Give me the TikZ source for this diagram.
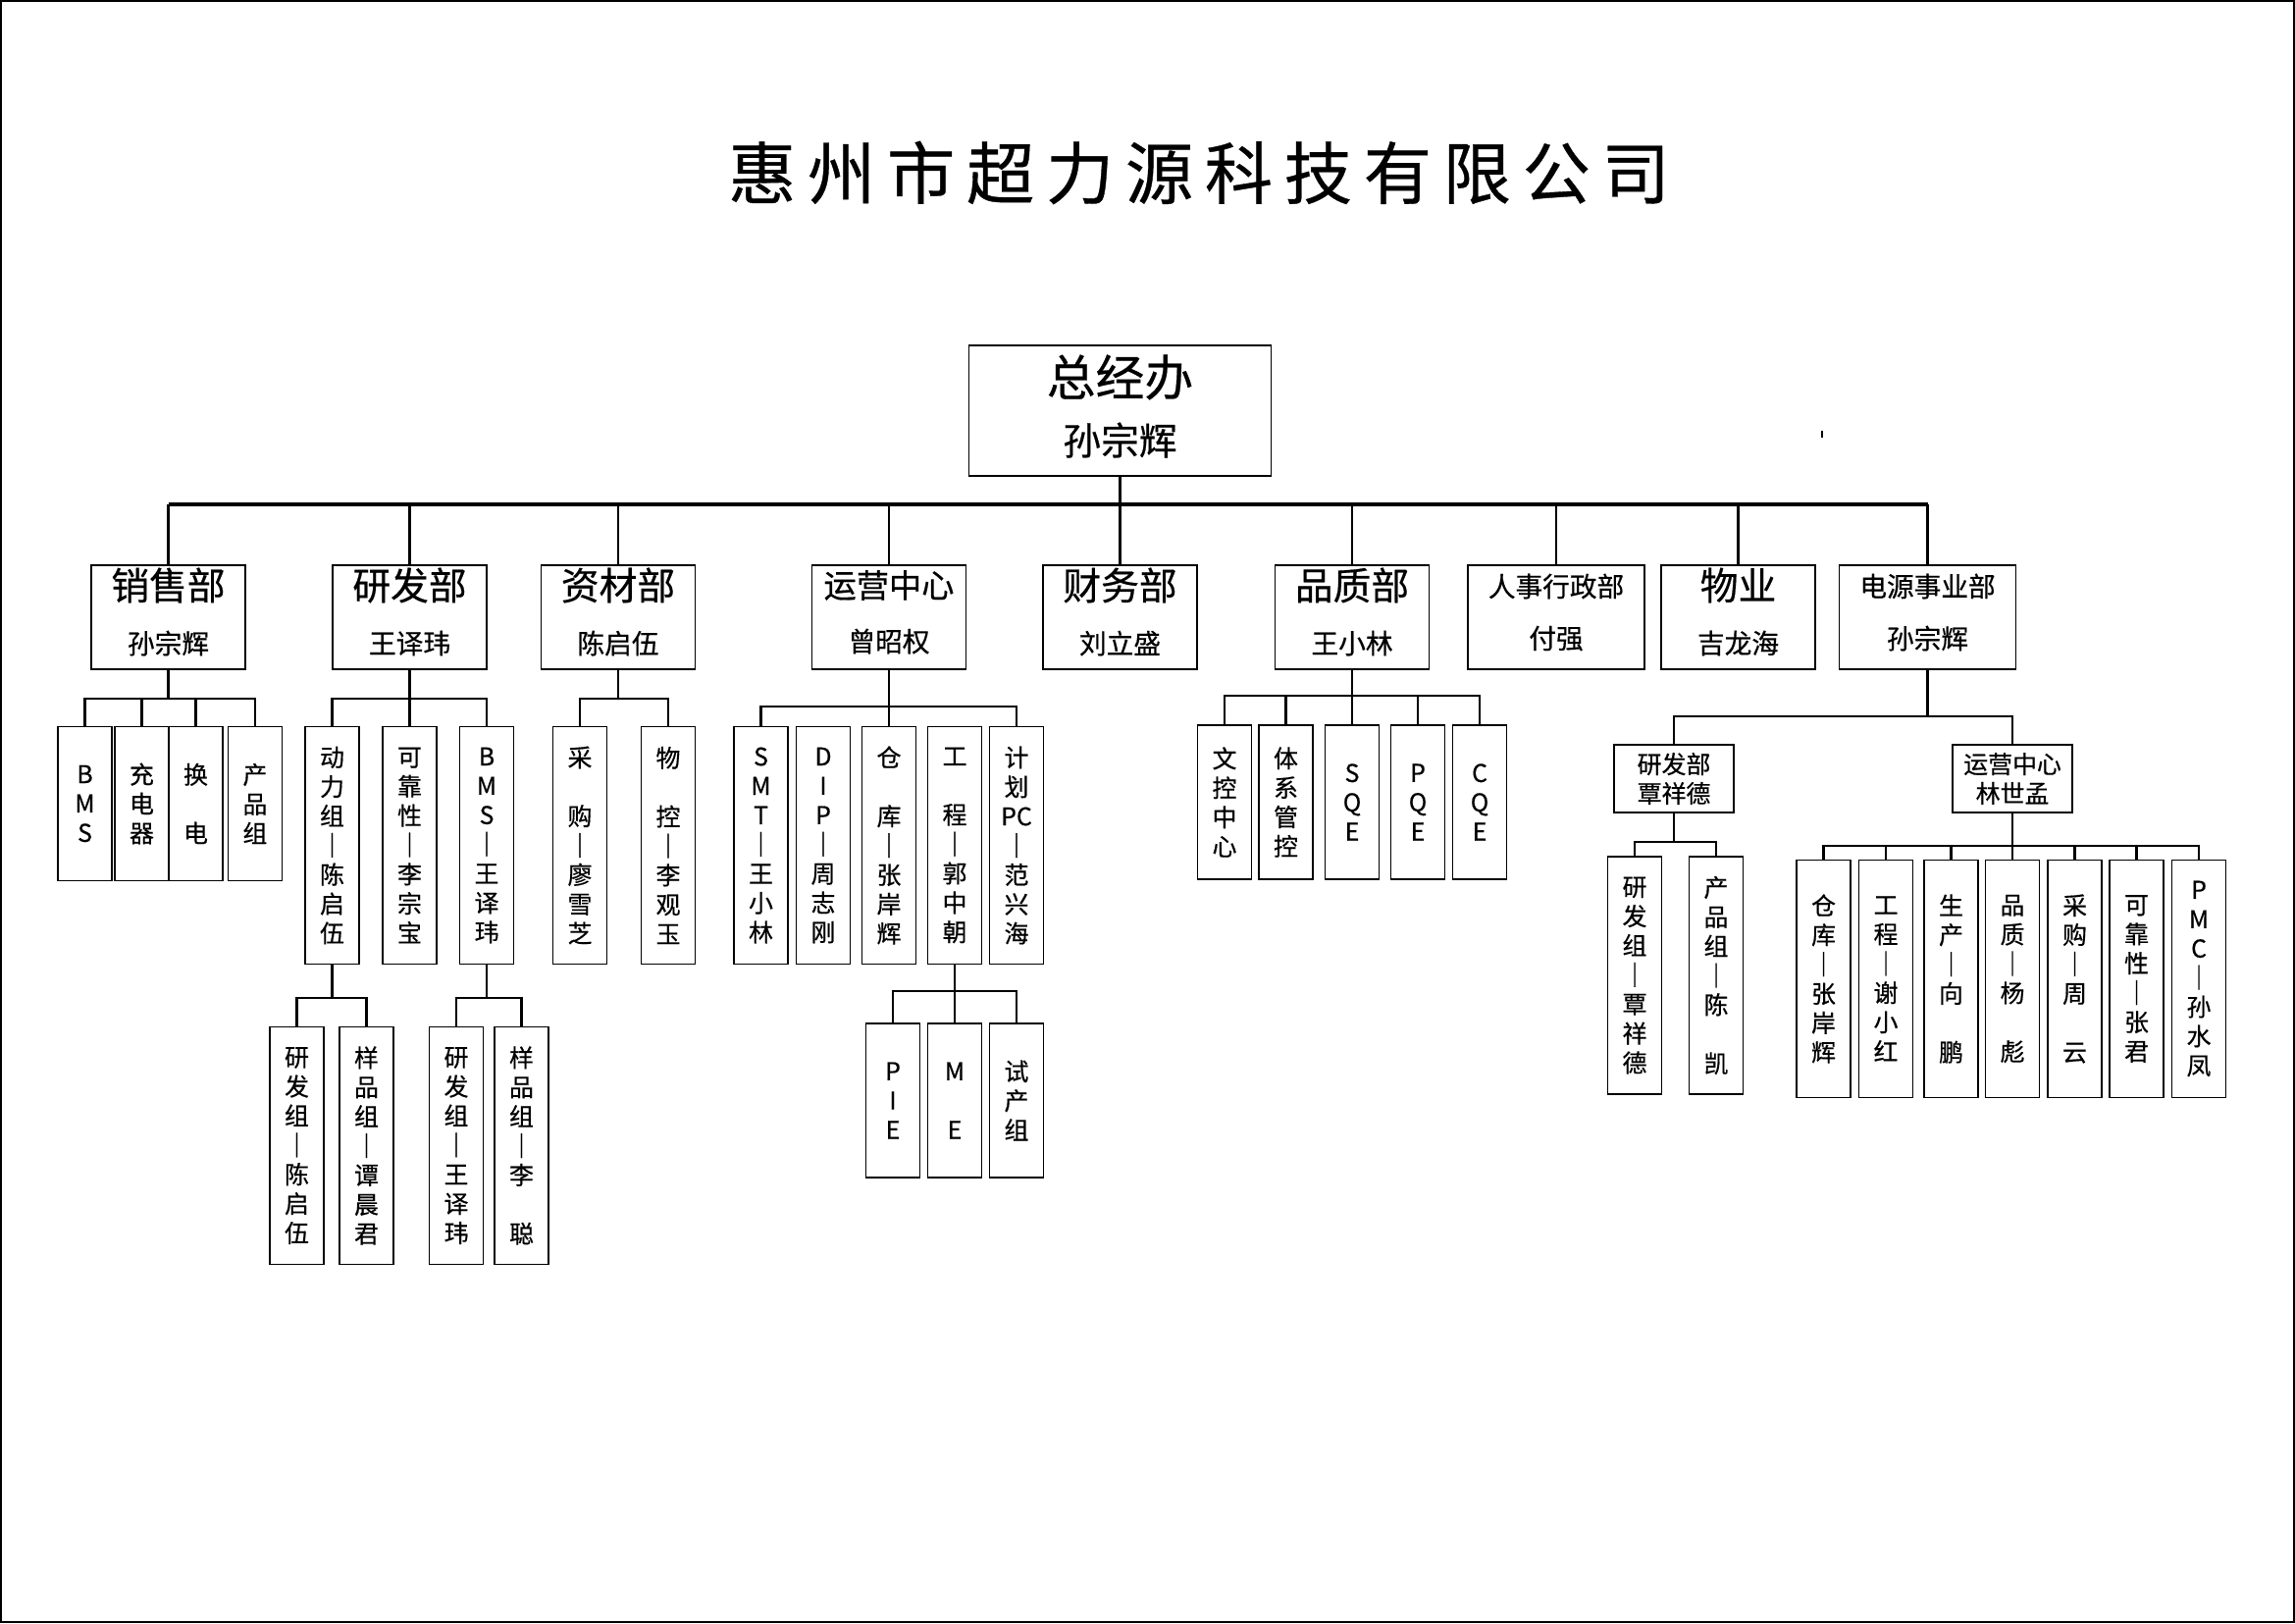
\documentclass[tikz,border=0pt]{standalone}
\usepackage{fontspec}
\setmainfont{Noto Sans CJK SC}[FakeBold=0.5]
\newfontfamily\titlefont[LetterSpace=17, FakeBold=0.5]{Noto Sans CJK SC}
\usetikzlibrary{calc}
\newcommand{\pxl}{0.127mm}
\tikzset{
    root-box/.style = {draw, line width=0.4pt, rectangle, inner sep=0pt, minimum width=308*\pxl, minimum height=133*\pxl},
    dept-box/.style = {draw, line width=0.4pt, rectangle, inner sep=0pt, minimum width=157*\pxl, minimum height=106*\pxl},
    wide-box/.style = {dept-box, minimum width=180*\pxl},
    sub-box/.style = {draw, line width=0.4pt, rectangle, inner sep=0pt, minimum width=122*\pxl, minimum height=69*\pxl, align=center, font=\fontsize{9}{10.8}\selectfont},
    leaf-box/.style = {draw, line width=0.4pt, rectangle, inner sep=0pt, minimum width=55*\pxl, align=center, font=\fontsize{9}{10.8}\selectfont},
    short-leaf/.style = {leaf-box, minimum height=157*\pxl},
    tall-leaf/.style = {leaf-box, minimum height=242*\pxl},
    company-title/.style = {inner sep=0pt, font=\titlefont\fontsize{25}{30}\selectfont},
    root-title/.style = {inner sep=0pt, font=\fontsize{18}{22}\selectfont},
    root-name/.style = {inner sep=0pt, font=\fontsize{14}{17}\selectfont},
    dept-title/.style = {inner sep=0pt, font=\fontsize{14}{17}\selectfont},
    mid-title/.style = {inner sep=0pt, font=\fontsize{12}{14}\selectfont},
    small-title/.style = {inner sep=0pt, font=\fontsize{10}{12}\selectfont},
    dept-name/.style = {inner sep=0pt, font=\fontsize{10}{12}\selectfont},
    bus-line/.style = {line width=1.1pt},
    drop-line/.style = {line width=0.8pt},
    link-line/.style = {line width=1pt},
    frame-line/.style = {line width=0.9pt},
}

\begin{document}
\begin{tikzpicture}[x=\pxl, y=-\pxl]
\useasboundingbox (0,0) rectangle (2339,1654);
\draw[frame-line] (1.2,1.2) rectangle (2337.8,1652.8);

% title and top
\node[company-title] (title) at (1222,176) {惠州市超力源科技有限公司};
\node[root-box] (zjb) at (1141.5,418.5) {};
\node[root-title] (zjb-t) at ($(zjb.north)+(0,33)$) {总经办};
\node[root-name] (zjb-n) at ($(zjb.south)+(0,-37)$) {孙宗辉};
\draw[line width=0.5pt] (1857,439) -- (1857,446);

% departments
\node[dept-box] (xs) at (171.5,629) {};
\node[dept-title] (xs-t) at ($(xs.north)+(0,21)$) {销售部};
\node[dept-name] (xs-n) at ($(xs.south)+(0,-27)$) {孙宗辉};
\node[dept-box] (yf) at (417.5,629) {};
\node[dept-title] (yf-t) at ($(yf.north)+(0,21)$) {研发部};
\node[dept-name] (yf-n) at ($(yf.south)+(0,-27)$) {王译玮};
\node[dept-box] (zc) at (630,629) {};
\node[dept-title] (zc-t) at ($(zc.north)+(0,21)$) {资材部};
\node[dept-name] (zc-n) at ($(zc.south)+(0,-27)$) {陈启伍};
\node[dept-box] (yy) at (906,629) {};
\node[mid-title] (yy-t) at ($(yy.north)+(0,21)$) {运营中心};
\node[dept-name] (yy-n) at ($(yy.south)+(0,-29)$) {曾昭权};
\node[dept-box] (cw) at (1141.5,629) {};
\node[dept-title] (cw-t) at ($(cw.north)+(0,21)$) {财务部};
\node[dept-name] (cw-n) at ($(cw.south)+(0,-27)$) {刘立盛};
\node[dept-box] (pz) at (1378,629) {};
\node[dept-title] (pz-t) at ($(pz.north)+(0,21)$) {品质部};
\node[dept-name] (pz-n) at ($(pz.south)+(0,-27)$) {王小林};
\node[wide-box] (rs) at (1586,629) {};
\node[small-title] (rs-t) at ($(rs.north)+(0,22)$) {人事行政部};
\node[dept-name] (rs-n) at ($(rs.south)+(0,-32)$) {付强};
\node[dept-box] (wy) at (1771.5,629) {};
\node[dept-title] (wy-t) at ($(wy.north)+(0,21)$) {物业};
\node[dept-name] (wy-n) at ($(wy.south)+(0,-27)$) {吉龙海};
\node[wide-box] (dy) at (1964.5,629) {};
\node[small-title] (dy-t) at ($(dy.north)+(0,22)$) {电源事业部};
\node[dept-name] (dy-n) at ($(dy.south)+(0,-32)$) {孙宗辉};

% top bus
\coordinate (top-bus) at (1141.5,514);
\draw[drop-line] (zjb.south) -- (cw.north);
\draw[bus-line] (xs.north |- top-bus) -- (dy.north |- top-bus);
\draw[drop-line] (xs.north) -- (xs.north |- top-bus);
\draw[drop-line] (yf.north) -- (yf.north |- top-bus);
\draw[drop-line] (zc.north) -- (zc.north |- top-bus);
\draw[drop-line] (yy.north) -- (yy.north |- top-bus);
\draw[drop-line] (pz.north) -- (pz.north |- top-bus);
\draw[drop-line] (rs.north) -- (rs.north |- top-bus);
\draw[drop-line] (wy.north) -- (wy.north |- top-bus);
\draw[drop-line] (dy.north) -- (dy.north |- top-bus);

% sales
\node[short-leaf] (xs-bms) at (86.5,819) {B\\M\\S};
\node[short-leaf] (xs-cdq) at (144.5,819) {充\\电\\器};
\node[short-leaf] (xs-hd) at (199.5,819) {换\\~\\电};
\node[short-leaf] (xs-cpz) at (260,819) {产\\品\\组};
\coordinate (xs-bus) at (171.5,712);
\draw[link-line] (xs.south) -- (xs-bus);
\draw[link-line] (xs-bms.north) |- (xs-cpz.north |- xs-bus) -- (xs-cpz.north);
\draw[link-line] (xs-cdq.north) -- (xs-cdq.north |- xs-bus);
\draw[link-line] (xs-hd.north) -- (xs-hd.north |- xs-bus);

% r&d
\node[tall-leaf] (yf-dl) at (338.5,861.5) {动\\力\\组\\｜\\陈\\启\\伍};
\node[tall-leaf] (yf-kk) at (417.5,861.5) {可\\靠\\性\\｜\\李\\宗\\宝};
\node[tall-leaf] (yf-bms) at (496,861.5) {B\\M\\S\\｜\\王\\译\\玮};
\coordinate (yf-bus) at (417.5,712);
\draw[link-line] (yf.south) -- (yf-kk.north);
\draw[link-line] (yf-dl.north) |- (yf-bms.north |- yf-bus) -- (yf-bms.north);
\node[tall-leaf] (dl-yf) at (302.5,1167.5) {研\\发\\组\\｜\\陈\\启\\伍};
\node[tall-leaf] (dl-yp) at (373.5,1167.5) {样\\品\\组\\｜\\谭\\晨\\君};
\coordinate (dl-bus) at (338.5,1017);
\draw[link-line] (yf-dl.south) -- (dl-bus);
\draw[link-line] (dl-yf.north) |- (dl-yp.north |- dl-bus) -- (dl-yp.north);
\node[tall-leaf] (bms-yf) at (465,1167.5) {研\\发\\组\\｜\\王\\译\\玮};
\node[tall-leaf] (bms-yp) at (531.5,1167.5) {样\\品\\组\\｜\\李\\~\\聪};
\coordinate (bms-bus) at (496,1017);
\draw[link-line] (yf-bms.south) -- (bms-bus);
\draw[link-line] (bms-yf.north) |- (bms-yp.north |- bms-bus) -- (bms-yp.north);

% materials
\node[tall-leaf] (zc-cg) at (591,861.5) {采\\~\\购\\｜\\廖\\雪\\芝};
\node[tall-leaf] (zc-wk) at (681,861.5) {物\\~\\控\\｜\\李\\观\\玉};
\coordinate (zc-bus) at (630,712);
\draw[link-line] (zc.south) -- (zc-bus);
\draw[link-line] (zc-cg.north) |- (zc-wk.north |- zc-bus) -- (zc-wk.north);

% operations
\node[tall-leaf] (yy-smt) at (775.5,861.5) {S\\M\\T\\｜\\王\\小\\林};
\node[tall-leaf] (yy-dip) at (839,861.5) {D\\I\\P\\｜\\周\\志\\刚};
\node[tall-leaf] (yy-ck) at (906,861.5) {仓\\~\\库\\｜\\张\\岸\\辉};
\node[tall-leaf] (yy-gc) at (973,861.5) {工\\~\\程\\｜\\郭\\中\\朝};
\node[tall-leaf] (yy-jh) at (1036,861.5) {计\\划\\PC\\｜\\范\\兴\\海};
\coordinate (yy-bus) at (906,720);
\draw[link-line] (yy.south) -- (yy-ck.north);
\draw[link-line] (yy-smt.north) |- (yy-jh.north |- yy-bus) -- (yy-jh.north);
\node[short-leaf] (gc-pie) at (910,1121.5) {P\\I\\E};
\node[short-leaf] (gc-me) at (973,1121.5) {M\\~\\E};
\node[short-leaf] (gc-scz) at (1036,1121.5) {试\\产\\组};
\coordinate (gc-bus) at (973,1010);
\draw[link-line] (yy-gc.south) -- (gc-me.north);
\draw[link-line] (gc-pie.north) |- (gc-scz.north |- gc-bus) -- (gc-scz.north);

% quality
\node[short-leaf] (pz-wk) at (1248,817.5) {文\\控\\中\\心};
\node[short-leaf] (pz-tx) at (1310.5,817.5) {体\\系\\管\\控};
\node[short-leaf] (pz-sqe) at (1378,817.5) {S\\Q\\E};
\node[short-leaf] (pz-pqe) at (1445,817.5) {P\\Q\\E};
\node[short-leaf] (pz-cqe) at (1508,817.5) {C\\Q\\E};
\coordinate (pz-bus) at (1378,709);
\draw[link-line] (pz.south) -- (pz-sqe.north);
\draw[link-line] (pz-wk.north) |- (pz-cqe.north |- pz-bus) -- (pz-cqe.north);
\draw[link-line] (pz-tx.north) -- (pz-tx.north |- pz-bus);
\draw[link-line] (pz-pqe.north) -- (pz-pqe.north |- pz-bus);

% power division
\node[sub-box] (dy-yf) at (1706,793.5) {研发部\\覃祥德};
\node[sub-box] (dy-yy) at (2051,793.5) {运营中心\\林世孟};
\coordinate (dy-bus) at (1964.5,730);
\draw[link-line] (dy.south) -- (dy-bus);
\draw[link-line] (dy-yf.north) |- (dy-yy.north |- dy-bus) -- (dy-yy.north);

\node[tall-leaf] (dyyf-yf) at (1666,994) {研\\发\\组\\｜\\覃\\祥\\德};
\node[tall-leaf] (dyyf-cp) at (1749,994) {产\\品\\组\\｜\\陈\\~\\凯};
\coordinate (dyyf-bus) at (1706,858);
\draw[link-line] (dy-yf.south) -- (dyyf-bus);
\draw[link-line] (dyyf-yf.north) |- (dyyf-cp.north |- dyyf-bus) -- (dyyf-cp.north);

\node[tall-leaf] (dyyy-ck) at (1858.5,997.5) {仓\\库\\｜\\张\\岸\\辉};
\node[tall-leaf] (dyyy-gc) at (1922,997.5) {工\\程\\｜\\谢\\小\\红};
\node[tall-leaf] (dyyy-sc) at (1988.5,997.5) {生\\产\\｜\\向\\~\\鹏};
\node[tall-leaf] (dyyy-pz) at (2051,997.5) {品\\质\\｜\\杨\\~\\彪};
\node[tall-leaf] (dyyy-cg) at (2114.5,997.5) {采\\购\\｜\\周\\~\\云};
\node[tall-leaf] (dyyy-kk) at (2177.5,997.5) {可\\靠\\性\\｜\\张\\君};
\node[tall-leaf] (dyyy-pmc) at (2241,997.5) {P\\M\\C\\｜\\孙\\水\\凤};
\coordinate (dyyy-bus) at (2051,862);
\draw[link-line] (dy-yy.south) -- (dyyy-pz.north);
\draw[link-line] (dyyy-ck.north) |- (dyyy-pmc.north |- dyyy-bus) -- (dyyy-pmc.north);
\draw[link-line] (dyyy-gc.north) -- (dyyy-gc.north |- dyyy-bus);
\draw[link-line] (dyyy-sc.north) -- (dyyy-sc.north |- dyyy-bus);
\draw[link-line] (dyyy-cg.north) -- (dyyy-cg.north |- dyyy-bus);
\draw[link-line] (dyyy-kk.north) -- (dyyy-kk.north |- dyyy-bus);
\end{tikzpicture}
\end{document}
